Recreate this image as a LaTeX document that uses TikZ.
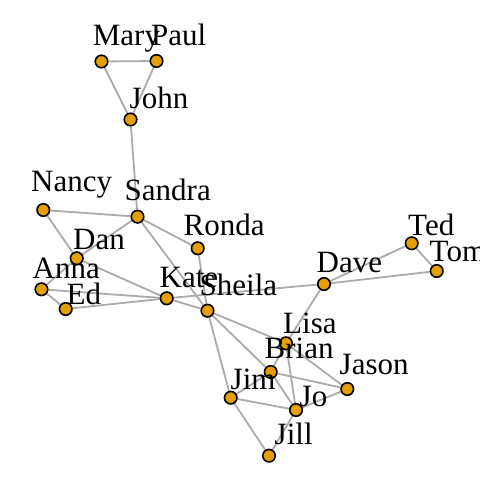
\documentclass[tikz,border=0pt]{standalone}
\usepackage{fontspec}
\setmainfont{Liberation Serif}
\usetikzlibrary{backgrounds}
\begin{document}
\begin{tikzpicture}[x=1bp,y=-1bp,
  vtx/.style={circle,draw=black,line width=1.6bp,fill=vorange,minimum size=12.5bp,inner sep=0pt},
  lbl/.style={anchor=base west,inner sep=0pt,font=\fontsize{31bp}{35bp}\selectfont},
  edge/.style={draw=egray,line width=1.8bp}]
\definecolor{vorange}{HTML}{E69F00}
\definecolor{egray}{HTML}{ABABAB}
\useasboundingbox (0,0) rectangle (480,480);
\clip (0,0) rectangle (480,480);
\foreach \n/\x/\y in {Mary/101.5/61.5, Paul/156.5/61, John/130.5/119.5, Nancy/43.3/210,
  Sandra/137.5/216.7, Ronda/197.7/248.3, Dan/76.7/258.3, Anna/41.5/289.3, Ed/65.7/309,
  Kate/166.7/298.3, Sheila/207.5/310.7, Dave/324/284, Ted/411.7/243.3, Tom/436.7/271,
  Lisa/286/343.3, Brian/270.7/372, Jason/347.3/389, Jim/230.7/397.7, Jo/296/410, Jill/269/455.7}
  {\node[vtx] (\n) at (\x,\y) {};}
\foreach \n/\x/\y in {Mary/92.7/46, Paul/151/46, John/129.5/108.3, Nancy/31/191.7,
  Sandra/124.5/200, Ronda/183.5/235, Dan/73/249.3, Anna/32.5/278.3, Ed/66.5/304,
  Kate/159.5/287.3, Sheila/199.5/295, Dave/316.5/272.7, Ted/408/235, Tom/429.5/261.7,
  Lisa/283/333.3, Brian/264.5/358.3, Jason/339.5/374, Jim/230.5/389.3, Jo/299.5/406, Jill/274.5/444}
  {\node[lbl] (\n-t) at (\x,\y) {\n};}
\begin{scope}[on background layer]
\foreach \a/\b in {Mary/Paul, Mary/John, Paul/John, John/Sandra, Nancy/Sandra, Nancy/Dan,
  Sandra/Dan, Sandra/Ronda, Sandra/Sheila, Ronda/Sheila, Dan/Anna, Dan/Kate, Anna/Ed,
  Anna/Kate, Ed/Kate, Kate/Sheila, Kate/Dave, Dave/Ted, Dave/Tom, Ted/Tom, Dave/Lisa,
  Sheila/Lisa, Sheila/Brian, Sheila/Jim, Lisa/Brian, Lisa/Jo, Lisa/Jason, Brian/Jim,
  Brian/Jo, Brian/Jason, Jim/Jo, Jim/Jill, Jo/Jill, Jo/Jason}
  {\draw[edge] (\a) -- (\b);}
\end{scope}
\end{tikzpicture}
\end{document}
